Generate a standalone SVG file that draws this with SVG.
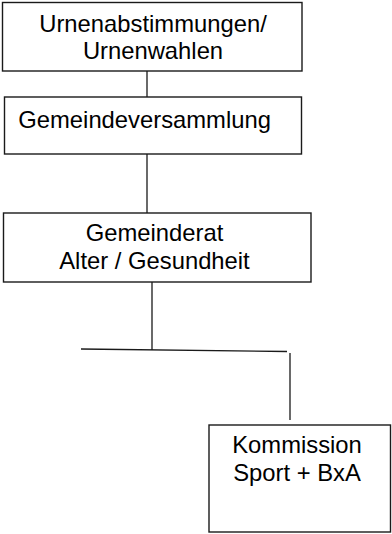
<svg xmlns="http://www.w3.org/2000/svg" width="392" height="534" viewBox="0 0 392 534">
<style>
.box{fill:#fff;stroke:#1a1a1a;stroke-width:1.4}
.ln{stroke:#1a1a1a;stroke-width:1.3;fill:none}
text{font-family:"Liberation Sans",Arial,sans-serif;font-size:23.8px;fill:#000}
.c{text-anchor:middle}
</style>
<rect width="392" height="534" fill="#fff"/>
<g id="connectors">
<line class="ln" x1="147" y1="71" x2="147" y2="97"/>
<line class="ln" x1="147" y1="154" x2="147" y2="213"/>
<line class="ln" x1="152" y1="282" x2="152" y2="350"/>
<line class="ln" x1="81" y1="349" x2="287" y2="351.5"/>
<line class="ln" x1="290" y1="353" x2="290" y2="420"/>
</g>
<g id="urnen">
<rect class="box" x="2.5" y="2.5" width="299.5" height="68.5"/>
<text class="c" x="153" y="32">Urnenabstimmungen/</text>
<text class="c" x="153" y="58.5">Urnenwahlen</text>
</g>
<g id="gemeindeversammlung">
<rect class="box" x="4.5" y="97" width="297" height="57"/>
<text x="18.3" y="128">Gemeindeversammlung</text>
</g>
<g id="gemeinderat">
<rect class="box" x="3.5" y="213" width="307.5" height="69"/>
<text class="c" x="154.5" y="241">Gemeinderat</text>
<text class="c" x="154.5" y="268.5">Alter / Gesundheit</text>
</g>
<g id="kommission">
<rect class="box" x="209" y="425" width="181.5" height="107"/>
<text class="c" x="297" y="453">Kommission</text>
<text class="c" x="297" y="481">Sport + BxA</text>
</g>
</svg>
